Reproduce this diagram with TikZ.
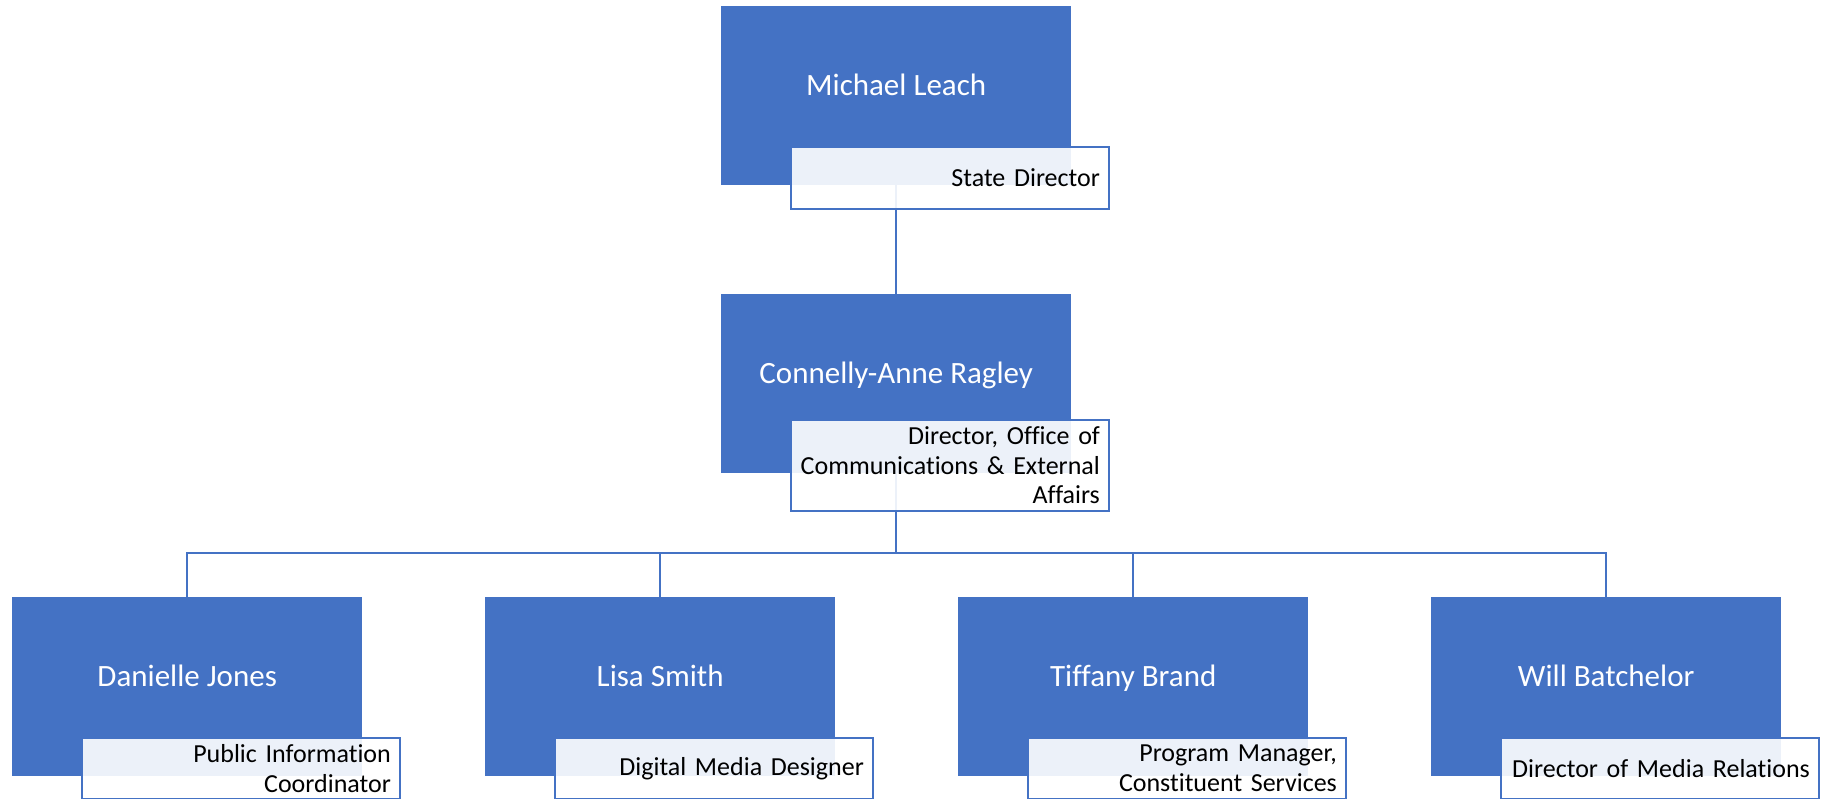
\documentclass[tikz,border=0pt]{standalone}
\usepackage{fontspec}
\setmainfont{Carlito}[Ligatures=NoCommon]
\definecolor{ablue}{HTML}{4472C4}
\begin{document}
\begin{tikzpicture}[x=1pt,y=-1pt,
 person/.style={fill=ablue, draw=none, minimum width=350pt, minimum height=179pt, inner sep=0pt, text=white, font=\fontsize{31}{37}\selectfont, text height=10pt, text depth=10pt, anchor=north west},
 role/.style={draw=ablue, line width=1.8pt, fill=white, fill opacity=0.9, text opacity=1, text=black, font=\fontsize{26}{29.6}\selectfont, align=right, text width=300pt, inner xsep=9pt, inner ysep=0pt, anchor=north west, minimum height=61pt},
 link/.style={draw=ablue, line width=2pt}]
\useasboundingbox[fill=white] (0,0) rectangle (1829,799);
\node[person] (ml) at (721,6) {Michael Leach};
\node[person] (car) at (721,294) {Connelly-Anne Ragley};
\node[person] (dj) at (12,597) {Danielle Jones};
\node[person] (ls) at (485,597) {Lisa Smith};
\node[person] (tb) at (958,597) {Tiffany Brand};
\node[person] (wb) at (1431,597) {Will Batchelor};
\draw[link] (ml.south) -- (car.north);
\foreach \c in {dj,ls,tb,wb} \draw[link] (car.south) -- ++(0,80) -| (\c.north);
\node[role, minimum height=62pt] (mlr) at ([shift={(69,140)}]ml.north west) {State Director};
\node[role, minimum height=91pt] (carr) at ([shift={(69,125)}]car.north west) {Director, Office of\\Communications \& External\\Affairs};
\node[role] (djr) at ([shift={(69,140)}]dj.north west) {Public Information\\Coordinator};
\node[role] (lsr) at ([shift={(69,140)}]ls.north west) {Digital Media Designer};
\node[role] (tbr) at ([shift={(69,140)}]tb.north west) {Program Manager,\\Constituent Services};
\node[role] (wbr) at ([shift={(69,140)}]wb.north west) {Director of Media Relations};
\end{tikzpicture}
\end{document}
